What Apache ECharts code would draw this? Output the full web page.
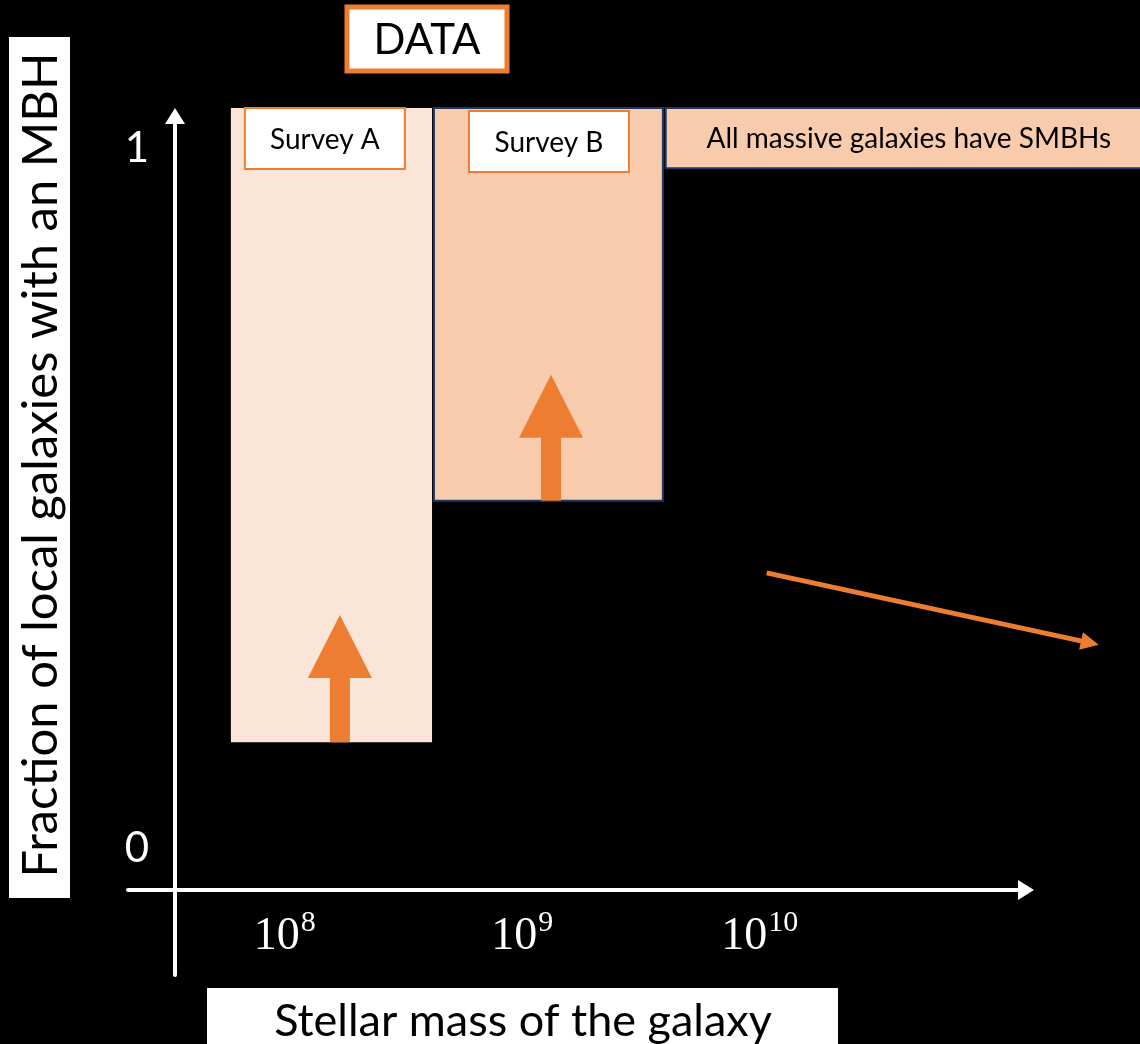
<!DOCTYPE html>
<html>
<head>
<meta charset="utf-8">
<script src="https://cdn.jsdelivr.net/npm/echarts@6/dist/echarts.min.js"></script>
<style>
html, body { margin: 0; padding: 0; background: #000; }
#main { width: 1140px; height: 1044px; }
</style>
</head>
<body>
<div id="main"></div>
<script>
// x = log10(stellar mass), y = fraction of galaxies with an MBH
var massTicks = [8, 9, 10];
var fractionTicks = [0, 1];

// survey regions: [massStart, massEnd, fractionLow, fractionHigh]
var surveyNames = ['Survey A', 'Survey B'];
var surveyRanges = [
	[7.773, 8.620, 0.151, 1.057],
	[8.628, 9.592, 0.496, 1.057]
];

// lower limits: [mass, fromFraction, toFraction]
var upArrows = [
	[8.232, 0.151, 0.333],
	[9.121, 0.496, 0.676]
];

// statement box: [massStart, massEnd, fractionLow, fractionHigh]
var claimText = 'All massive galaxies have SMBHs';
var claimRange = [9.604, 11.651, 0.971, 1.057];

// trend arrow
var trendLine = [[10.029, 0.393], [11.390, 0.293]];

var orange = '#ED7D31';
var navy = '#203864';
var font = 'Lato';

var chart = echarts.init(document.getElementById('main'));

var option = {
	backgroundColor: '#000',
	animation: false,
	grid: {
		left: 128,
		right: 114,
		top: 116,
		bottom: 69
	},
	xAxis: {
		type: 'value',
		min: 7.3398,
		max: 11.121,
		position: 'bottom',
		offset: -85,
		axisLine: {
			onZero: false,
			symbol: ['none', 'triangle'],
			symbolSize: [20, 16],
			lineStyle: { color: '#fff', width: 4 }
		},
		axisTick: { show: false },
		splitLine: { show: false },
		axisLabel: {
			customValues: massTicks,
			margin: 18,
			formatter: function(v) {
				return '{b|10}{s|' + v + '}';
			},
			rich: {
				b: { color: '#fff', fontSize: 46, fontFamily: 'Liberation Serif', verticalAlign: 'bottom', lineHeight: 52 },
				s: { color: '#fff', fontSize: 30, fontFamily: 'Liberation Serif', verticalAlign: 'top', lineHeight: 52, padding: [0, 0, 0, 1] }
			}
		}
	},
	yAxis: {
		type: 'value',
		min: -0.1814,
		max: 1.0457,
		position: 'left',
		offset: -47,
		axisLine: {
			show: true,
			onZero: false,
			symbol: ['none', 'triangle'],
			symbolSize: [20, 16],
			lineStyle: { color: '#fff', width: 4 }
		},
		axisTick: { show: false },
		splitLine: { show: false },
		axisLabel: {
			customValues: fractionTicks,
			margin: 26,
			color: '#fff',
			fontSize: 42,
			fontFamily: font
		}
	},
	series: [{
		// shaded survey regions with their labels
		type: 'custom',
		clip: false,
		data: surveyRanges,
		renderItem: function(params, api) {
			var i = params.dataIndex;
			var p0 = api.coord([api.value(0), api.value(3)]);
			var p1 = api.coord([api.value(1), api.value(2)]);
			var inset = i == 0 ? [14, 0] : [35, 3];
			return {
				type: 'group',
				children: [{
					type: 'rect',
					shape: { x: p0[0], y: p0[1], width: p1[0] - p0[0], height: p1[1] - p0[1] },
					style: i == 0 ? { fill: '#FBE5D6' } : { fill: '#F8CBAD', stroke: navy, lineWidth: 2 }
				}, {
					type: 'rect',
					shape: { x: p0[0] + inset[0], y: p0[1] + inset[1], width: 160, height: 61 },
					style: { fill: '#fff', stroke: orange, lineWidth: 2 }
				}, {
					type: 'text',
					x: p0[0] + inset[0] + 80,
					y: p0[1] + inset[1] + 32,
					style: {
						text: surveyNames[i],
						fill: '#000',
						font: '28px ' + font,
						align: 'center',
						verticalAlign: 'middle'
					}
				}]
			};
		}
	}, {
		// upward arrows (lower limits)
		type: 'custom',
		clip: false,
		data: upArrows,
		renderItem: function(params, api) {
			var base = api.coord([api.value(0), api.value(1)]);
			var tip = api.coord([api.value(0), api.value(2)]);
			var x = base[0], headH = 63, headW = 32, shaftW = 10;
			return {
				type: 'polygon',
				shape: {
					points: [
						[x - shaftW, base[1]], [x - shaftW, tip[1] + headH], [x - headW, tip[1] + headH],
						[x, tip[1]],
						[x + headW, tip[1] + headH], [x + shaftW, tip[1] + headH], [x + shaftW, base[1]]
					]
				},
				style: { fill: orange }
			};
		}
	}, {
		// statement box
		type: 'custom',
		clip: false,
		data: [claimRange],
		renderItem: function(params, api) {
			var p0 = api.coord([api.value(0), api.value(3)]);
			var p1 = api.coord([api.value(1), api.value(2)]);
			return {
				type: 'group',
				children: [{
					type: 'rect',
					shape: { x: p0[0], y: p0[1], width: p1[0] - p0[0], height: p1[1] - p0[1] },
					style: { fill: '#F8CBAD', stroke: navy, lineWidth: 2 }
				}, {
					type: 'text',
					x: (p0[0] + p1[0]) / 2,
					y: (p0[1] + p1[1]) / 2 + 1,
					style: {
						text: claimText,
						fill: '#000',
						font: '28px ' + font,
						align: 'center',
						verticalAlign: 'middle'
					}
				}]
			};
		}
	}, {
		type: 'lines',
		coordinateSystem: 'cartesian2d',
		clip: false,
		data: [{ coords: trendLine }],
		symbol: ['none', 'triangle'],
		symbolSize: 18,
		lineStyle: { color: orange, width: 5, opacity: 1 }
	}],
	graphic: [{
		type: 'rect',
		shape: { x: 347, y: 7, width: 160, height: 64 },
		style: { fill: '#fff', stroke: orange, lineWidth: 5 }
	}, {
		type: 'text',
		x: 427,
		y: 40,
		style: { text: 'DATA', fill: '#000', font: '42px ' + font, align: 'center', verticalAlign: 'middle' }
	}, {
		type: 'rect',
		shape: { x: 9, y: 37, width: 61, height: 861 },
		style: { fill: '#fff' }
	}, {
		type: 'text',
		x: 41,
		y: 465,
		rotation: Math.PI / 2,
		style: { text: 'Fraction of local galaxies with an MBH', fill: '#000', font: '49px ' + font, align: 'center', verticalAlign: 'middle' }
	}, {
		type: 'rect',
		shape: { x: 207, y: 988, width: 631, height: 60 },
		style: { fill: '#fff' }
	}, {
		type: 'text',
		x: 523,
		y: 1021,
		style: { text: 'Stellar mass of the galaxy', fill: '#000', font: '45px ' + font, align: 'center', verticalAlign: 'middle' }
	}]
};

chart.setOption(option);
</script>
</body>
</html>
